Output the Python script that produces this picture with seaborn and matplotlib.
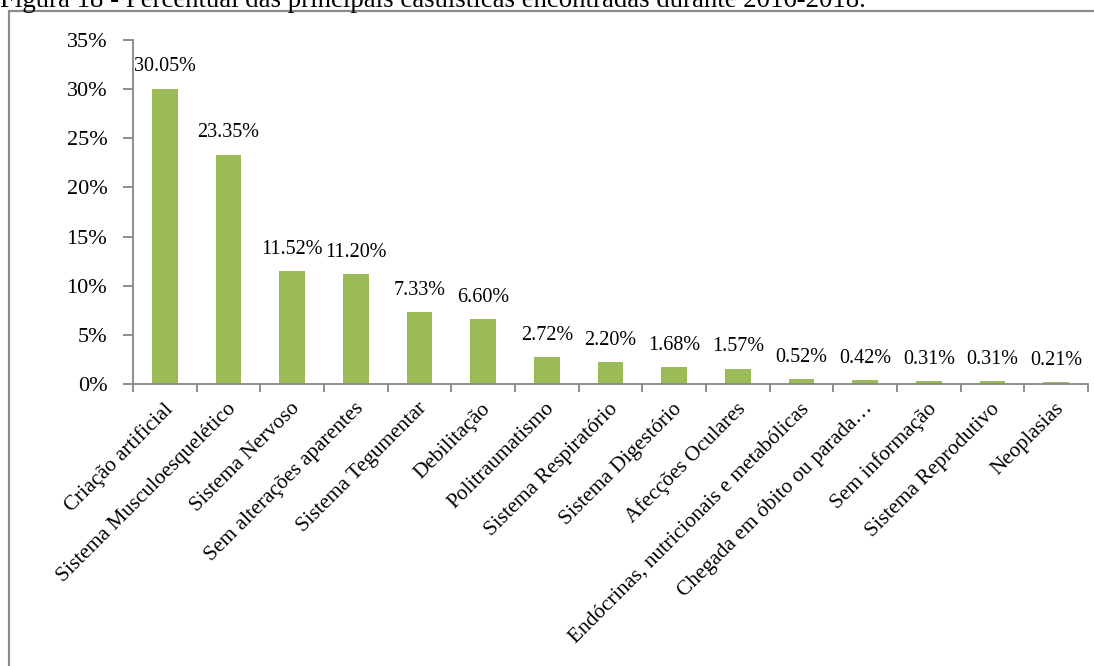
import matplotlib
matplotlib.use("Agg")
import matplotlib.pyplot as plt
from matplotlib.lines import Line2D
from matplotlib.transforms import ScaledTranslation
import seaborn as sns
import pandas as pd
import numpy as np

# Casuísticas e respectivos percentuais
categorias = [
    "Criação artificial",
    "Sistema Musculoesquelético",
    "Sistema Nervoso",
    "Sem alterações aparentes",
    "Sistema Tegumentar",
    "Debilitação",
    "Politraumatismo",
    "Sistema Respiratório",
    "Sistema Digestório",
    "Afecções Oculares",
    "Endócrinas, nutricionais e metabólicas",
    "Chegada em óbito ou parada…",
    "Sem informação",
    "Sistema Reprodutivo",
    "Neoplasias",
]
percentuais = [30.05, 23.35, 11.52, 11.20, 7.33, 6.60, 2.72, 2.20, 1.68, 1.57,
               0.52, 0.42, 0.31, 0.31, 0.21]
y_ticks = [0, 5, 10, 15, 20, 25, 30, 35]
y_tick_labels = ["0%", "5%", "10%", "15%", "20%", "25%", "30%", "35%"]
legenda = "Figura 18 - Percentual das principais casuísticas encontradas durante 2016-2018."

sns.set_theme(style="white")
plt.rcParams["font.family"] = ["Liberation Serif", "DejaVu Serif"]

W, H = 1094, 666
fig = plt.figure(figsize=(W / 100, H / 100), dpi=100)
fig.patch.set_facecolor("white")

# área do gráfico em pixels: eixo y em x=133, eixo x de 133 a 1088, y de 40 a 384
ax = fig.add_axes([133 / W, 1 - 384 / H, (1088 - 133) / W, (384 - 40) / H])

df = pd.DataFrame({"categoria": categorias, "pct": percentuais})
sns.barplot(data=df, x="categoria", y="pct", color="#9BBB59", saturation=1,
            width=0.4, ax=ax, edgecolor="none")

n = len(categorias)
ax.set_xlim(-0.5, n - 0.5)
ax.set_ylim(0, 35)
ax.set_xlabel("")
ax.set_ylabel("")

fs_y = 16
fs_x = 15.4
fs_valor = 14.5
cinza = "#868686"

# eixo y
ax.set_yticks(y_ticks)
ax.set_yticklabels(y_tick_labels, fontsize=fs_y, color="black")
ax.tick_params(axis="y", direction="out", length=7, width=1.3, color=cinza,
               pad=11.5, left=True)

# eixo x: marcas entre categorias, rótulos no centro
ax.set_xticks(np.arange(-0.5, n, 1.0))
ax.set_xticklabels([])
ax.tick_params(axis="x", which="major", direction="out", length=6, width=1.3,
               color=cinza, bottom=True)
ax.set_xticks(np.arange(n), minor=True)
ax.set_xticklabels(categorias, minor=True, rotation=45, ha="right",
                   rotation_mode="anchor", fontsize=fs_x, color="black")
ax.tick_params(axis="x", which="minor", length=0, pad=11)
desloc = ScaledTranslation(-2 / 100, 0, fig.dpi_scale_trans)
for lbl in ax.get_xticklabels(minor=True):
    lbl.set_transform(lbl.get_transform() + desloc)

for s in ["top", "right"]:
    ax.spines[s].set_visible(False)
for s in ["left", "bottom"]:
    ax.spines[s].set_color(cinza)
    ax.spines[s].set_linewidth(1.3)

# rótulos de valor
for i, v in enumerate(percentuais):
    ax.annotate(f"{v:.2f}%", xy=(i, v), xytext=(0, 12.4),
                textcoords="offset points", ha="center", va="baseline",
                fontsize=fs_valor, color="black")

# moldura (topo e lado esquerdo)
fig.add_artist(Line2D([8.5 / W, 1.0], [1 - 10.5 / H, 1 - 10.5 / H],
                      transform=fig.transFigure, color="#8a8a8a", lw=1.6))
fig.add_artist(Line2D([8.5 / W, 8.5 / W], [0, 1 - 10.5 / H],
                      transform=fig.transFigure, color="#8a8a8a", lw=1.6))

# legenda da figura, parcialmente cortada no topo
cap = fig.text(0.0, 1 - 7 / H, legenda, ha="left", va="baseline",
               fontsize=16, color="black")
fig.canvas.draw()
bb = cap.get_window_extent()
cap.set_fontsize(16 * 865 / bb.width)

fig.savefig("out.png", dpi=100, facecolor="white")
